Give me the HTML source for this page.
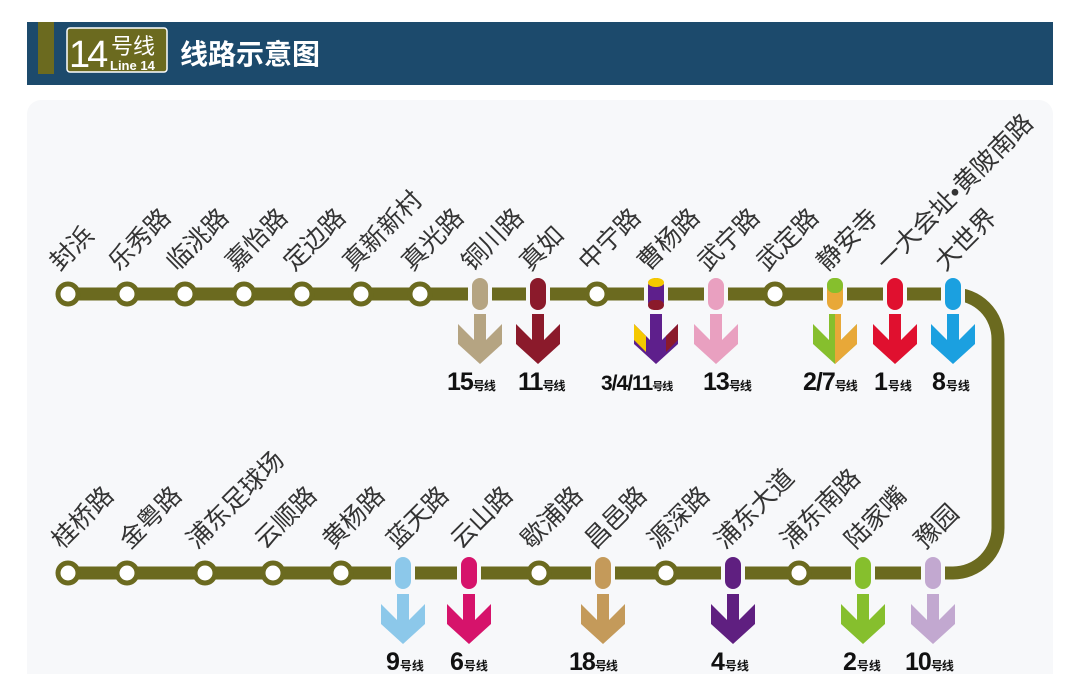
<!DOCTYPE html>
<html><head><meta charset="utf-8"><style>
body{margin:0;background:#fff;}
svg{display:block;font-family:"Liberation Sans","Noto Sans CJK SC",sans-serif;}
</style></head><body>
<svg width="1080" height="674" viewBox="0 0 1080 674" xmlns="http://www.w3.org/2000/svg">
<rect x="0" y="0" width="1080" height="674" fill="#fff"/>
<rect x="27" y="100" width="1026" height="590" rx="14" fill="#f7f8fa"/>
<rect x="27" y="22" width="1026" height="63" fill="#1c4a6c"/>
<rect x="38" y="22" width="16" height="52" fill="#6b6a1f"/>
<rect x="67" y="28" width="100" height="44" rx="3" fill="#6b6a1f" stroke="#fff" stroke-width="1.5"/>
<text x="69" y="67" font-size="38" fill="#fff" letter-spacing="-3">14</text>
<text x="111" y="54" font-size="22" fill="#fff">号线</text>
<text x="110" y="70" font-size="13" fill="#fff" font-weight="bold">Line 14</text>
<text x="180" y="64" font-size="28" fill="#fff" font-weight="bold">线路示意图</text>

<path d="M66 294 H953 A45 45 0 0 1 998 339 V528 A45 45 0 0 1 953 573 H66" fill="none" stroke="#6b6a1f" stroke-width="13"/>

<g fill="#fff" stroke="#6b6a1f" stroke-width="5">
<circle cx="68" cy="294" r="10"/><circle cx="127" cy="294" r="10"/><circle cx="185" cy="294" r="10"/><circle cx="244" cy="294" r="10"/><circle cx="302" cy="294" r="10"/><circle cx="361" cy="294" r="10"/><circle cx="420" cy="294" r="10"/><circle cx="597" cy="294" r="10"/><circle cx="775" cy="294" r="10"/>
<circle cx="68" cy="573" r="10"/><circle cx="127" cy="573" r="10"/><circle cx="205" cy="573" r="10"/><circle cx="273" cy="573" r="10"/><circle cx="341" cy="573" r="10"/><circle cx="539" cy="573" r="10"/><circle cx="666" cy="573" r="10"/><circle cx="799" cy="573" r="10"/>
</g>

<g stroke="#f7f8fa" stroke-width="4">
<rect x="470" y="276" width="20" height="36" rx="10" fill="#b5a482"/>
<rect x="528" y="276" width="20" height="36" rx="10" fill="#8b1a2b"/>
<rect x="646" y="276" width="20" height="36" rx="10" fill="#5e1f8c"/>
<rect x="706" y="276" width="20" height="36" rx="10" fill="#e9a0c0"/>
<rect x="825" y="276" width="20" height="36" rx="10" fill="#e8a838"/>
<rect x="885" y="276" width="20" height="36" rx="10" fill="#e0102f"/>
<rect x="943" y="276" width="20" height="36" rx="10" fill="#1ba0e0"/>
<rect x="393" y="555" width="20" height="36" rx="10" fill="#8cc8ea"/>
<rect x="459" y="555" width="20" height="36" rx="10" fill="#d6136b"/>
<rect x="593" y="555" width="20" height="36" rx="10" fill="#c49a5a"/>
<rect x="723" y="555" width="20" height="36" rx="10" fill="#5f1f80"/>
<rect x="853" y="555" width="20" height="36" rx="10" fill="#86bf2d"/>
<rect x="923" y="555" width="20" height="36" rx="10" fill="#c2a8d0"/>
</g>
<rect x="648" y="278" width="16" height="9" rx="7" fill="#f5c800"/>
<rect x="648" y="300" width="16" height="10" rx="6" fill="#8b1a2b"/>
<rect x="827" y="278" width="16" height="15" rx="7" fill="#86bf2d"/>

<defs>
<path id="ar" d="M-6 0 H6 V26 L22 10 V30 L0 50 L-22 30 V10 L-6 26 Z"/>
</defs>
<use href="#ar" x="480" y="314" fill="#b5a482"/>
<use href="#ar" x="538" y="314" fill="#8b1a2b"/>
<use href="#ar" x="656" y="314" fill="#5e1f8c"/>
<path d="M634 324 L646 336 V352 L634 340 Z" fill="#f5c800"/>
<path d="M678 324 L666 336 V352 L678 340 Z" fill="#8b1a2b"/>
<use href="#ar" x="716" y="314" fill="#e9a0c0"/>
<use href="#ar" x="835" y="314" fill="#86bf2d"/>
<path d="M835 314 H841 V340 L857 324 V344 L835 364 Z" fill="#e8a838"/>
<use href="#ar" x="895" y="314" fill="#e0102f"/>
<use href="#ar" x="953" y="314" fill="#1ba0e0"/>
<use href="#ar" x="403" y="594" fill="#8cc8ea"/>
<use href="#ar" x="469" y="594" fill="#d6136b"/>
<use href="#ar" x="603" y="594" fill="#c49a5a"/>
<use href="#ar" x="733" y="594" fill="#5f1f80"/>
<use href="#ar" x="863" y="594" fill="#86bf2d"/>
<use href="#ar" x="933" y="594" fill="#c2a8d0"/>

<g fill="#111" font-weight="bold">
<text x="447" y="390" font-size="25" letter-spacing="-1">15<tspan font-size="12">号线</tspan></text>
<text x="518" y="390" font-size="25" letter-spacing="-1">11<tspan font-size="12">号线</tspan></text>
<text x="601" y="390" font-size="21" letter-spacing="-1">3/4/11<tspan font-size="11">号线</tspan></text>
<text x="703" y="390" font-size="25" letter-spacing="-1">13<tspan font-size="12">号线</tspan></text>
<text x="803" y="390" font-size="25" letter-spacing="-1">2/7<tspan font-size="12">号线</tspan></text>
<text x="874" y="390" font-size="25">1<tspan font-size="12">号线</tspan></text>
<text x="932" y="390" font-size="25">8<tspan font-size="12">号线</tspan></text>
<text x="386" y="670" font-size="25">9<tspan font-size="12">号线</tspan></text>
<text x="450" y="670" font-size="25">6<tspan font-size="12">号线</tspan></text>
<text x="569" y="670" font-size="25" letter-spacing="-1">18<tspan font-size="12">号线</tspan></text>
<text x="711" y="670" font-size="25">4<tspan font-size="12">号线</tspan></text>
<text x="843" y="670" font-size="25">2<tspan font-size="12">号线</tspan></text>
<text x="905" y="670" font-size="25" letter-spacing="-1">10<tspan font-size="12">号线</tspan></text>
</g>

<g fill="#333" font-size="25">
<text transform="translate(60,272) rotate(-45)">封浜</text>
<text transform="translate(119,272) rotate(-45)">乐秀路</text>
<text transform="translate(177,272) rotate(-45)">临洮路</text>
<text transform="translate(236,272) rotate(-45)">嘉怡路</text>
<text transform="translate(294,272) rotate(-45)">定边路</text>
<text transform="translate(353,272) rotate(-45)">真新新村</text>
<text transform="translate(412,272) rotate(-45)">真光路</text>
<text transform="translate(472,272) rotate(-45)">铜川路</text>
<text transform="translate(530,272) rotate(-45)">真如</text>
<text transform="translate(589,272) rotate(-45)">中宁路</text>
<text transform="translate(648,272) rotate(-45)">曹杨路</text>
<text transform="translate(708,272) rotate(-45)">武宁路</text>
<text transform="translate(767,272) rotate(-45)">武定路</text>
<text transform="translate(827,272) rotate(-45)">静安寺</text>
<text transform="translate(887,272) rotate(-45)">一大会址•黄陂南路</text>
<text transform="translate(945,272) rotate(-45)">大世界</text>
<text transform="translate(62,550) rotate(-45)">桂桥路</text>
<text transform="translate(130,550) rotate(-45)">金粤路</text>
<text transform="translate(197,550) rotate(-45)">浦东足球场</text>
<text transform="translate(265,550) rotate(-45)">云顺路</text>
<text transform="translate(333,550) rotate(-45)">黄杨路</text>
<text transform="translate(397,550) rotate(-45)">蓝天路</text>
<text transform="translate(461,550) rotate(-45)">云山路</text>
<text transform="translate(531,550) rotate(-45)">歇浦路</text>
<text transform="translate(595,550) rotate(-45)">昌邑路</text>
<text transform="translate(658,550) rotate(-45)">源深路</text>
<text transform="translate(725,550) rotate(-45)">浦东大道</text>
<text transform="translate(791,550) rotate(-45)">浦东南路</text>
<text transform="translate(855,550) rotate(-45)">陆家嘴</text>
<text transform="translate(925,550) rotate(-45)">豫园</text>
</g>
</svg>
</body></html>
